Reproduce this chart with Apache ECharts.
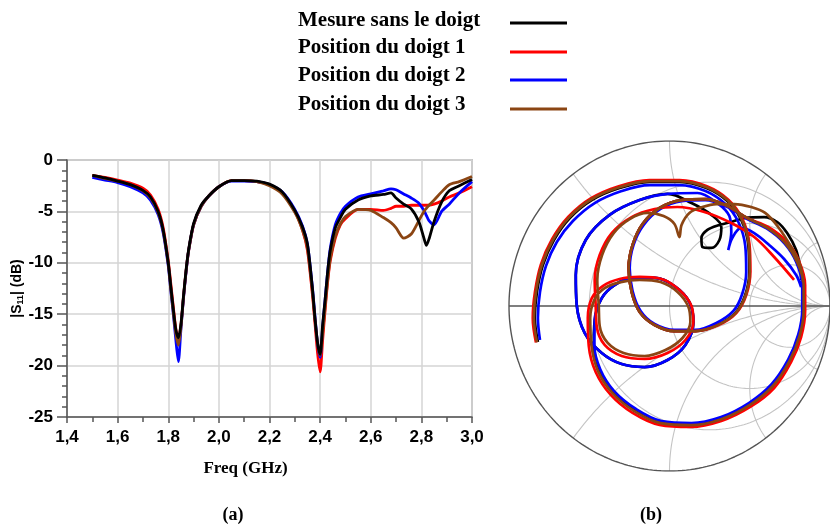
<!DOCTYPE html>
<html><head><meta charset="utf-8">
<script src="https://cdn.jsdelivr.net/npm/echarts@6/dist/echarts.min.js"></script>
<style>html,body{margin:0;padding:0;background:#fff}#c{width:830px;height:526px}</style>
</head><body><div id="c"></div>
<script>
// ---------- |S11| (dB) versus frequency (GHz) ----------
const freq = [1.50,1.55,1.60,1.65,1.70,1.73,1.76,1.78,1.80,1.81,1.82,1.83,1.84,1.85,1.86,1.87,1.88,1.90,1.93,1.96,2.00,2.05,2.10,2.15,2.20,2.25,2.30,2.33,2.35,2.37,2.38,2.39,2.40,2.41,2.42,2.43,2.44,2.46,2.48,2.50,2.55,2.60,2.65,2.68,2.70,2.73,2.76,2.79,2.81,2.82,2.83,2.85,2.88,2.91,2.95,3.00];
const s11Black = [-1.5,-1.75,-2.05,-2.4,-2.95,-3.6,-5.0,-6.8,-10.0,-12.3,-14.5,-16.5,-17.3,-16.0,-13.3,-10.8,-8.8,-6.2,-4.4,-3.5,-2.6,-2.0,-2.0,-2.05,-2.35,-3.1,-4.9,-6.5,-8.2,-12.6,-15.5,-17.8,-18.9,-16.0,-13.5,-10.8,-8.8,-6.6,-5.6,-4.8,-3.9,-3.5,-3.35,-3.2,-3.7,-4.3,-4.75,-6.0,-7.6,-8.3,-7.7,-6.0,-4.1,-3.0,-2.5,-1.9];
const s11Red   = [-1.5,-1.7,-1.95,-2.25,-2.75,-3.4,-4.8,-6.6,-9.8,-12.0,-14.3,-16.4,-17.5,-16.1,-13.4,-10.9,-8.9,-6.3,-4.5,-3.5,-2.6,-2.0,-2.0,-2.1,-2.4,-3.2,-5.0,-6.8,-8.8,-13.2,-16.0,-18.8,-20.6,-17.5,-14.5,-11.8,-9.8,-7.6,-6.3,-5.7,-4.8,-4.8,-4.9,-4.7,-4.5,-4.5,-4.4,-4.4,-4.4,-4.4,-4.4,-4.3,-4.0,-3.6,-3.2,-2.6];
const s11Blue  = [-1.7,-1.95,-2.2,-2.6,-3.2,-3.9,-5.3,-7.1,-10.3,-12.7,-15.0,-17.5,-19.6,-16.5,-13.5,-11.0,-8.9,-6.3,-4.5,-3.5,-2.6,-2.05,-2.05,-2.1,-2.4,-3.1,-4.8,-6.4,-8.2,-12.5,-15.3,-17.9,-19.2,-16.2,-13.5,-10.8,-8.6,-6.3,-5.2,-4.5,-3.6,-3.3,-3.0,-2.8,-2.9,-3.3,-3.7,-4.2,-4.9,-5.4,-5.9,-6.3,-5.0,-4.3,-3.2,-2.1];
const s11Brown = [-1.5,-1.8,-2.05,-2.4,-3.0,-3.7,-5.1,-6.9,-10.1,-12.5,-14.8,-16.9,-18.0,-16.3,-13.4,-10.9,-8.9,-6.3,-4.5,-3.5,-2.6,-2.0,-2.0,-2.1,-2.5,-3.3,-5.1,-6.8,-8.6,-12.9,-15.6,-17.9,-19.0,-16.8,-14.2,-11.6,-9.6,-7.4,-6.2,-5.5,-4.8,-4.9,-5.6,-6.1,-6.6,-7.6,-7.2,-5.9,-5.0,-4.7,-4.4,-3.9,-3.1,-2.4,-2.1,-1.6];

// ---------- Smith chart traces: reflection coefficient [Re, Im] ----------
const smithBlack = [
[-0.820,-0.218],[-0.839,-0.073],[-0.826,0.085],[-0.789,0.248],[-0.720,0.400],[-0.621,0.533],[-0.484,0.642],[-0.311,0.715],[-0.124,0.752],[0.062,0.752],[0.230,0.715],[0.360,0.636],[0.447,0.521],[0.491,0.370],[0.497,0.206],[0.472,0.067],[0.410,-0.042],[0.298,-0.115],
[0.161,-0.152],[0.031,-0.152],[-0.093,-0.115],[-0.186,-0.036],[-0.236,0.085],[-0.255,0.230],[-0.230,0.370],[-0.168,0.497],[-0.062,0.594],[0.075,0.642],[0.224,0.648],[0.360,0.606],[0.484,0.533],
[0.609,0.473],[0.720,0.382],[0.795,0.267],[0.832,0.127],[0.832,-0.024],[0.807,-0.176],[0.745,-0.327],[0.640,-0.479],[0.497,-0.594],[0.323,-0.679],[0.137,-0.715],[-0.050,-0.703],[-0.211,-0.630],[-0.348,-0.521],[-0.435,-0.388],[-0.472,-0.242],
[-0.466,-0.085],[-0.422,0.048],[-0.342,0.127],[-0.230,0.170],[-0.093,0.170],[0.031,0.121],[0.124,0.024],[0.149,-0.097],[0.099,-0.236],[-0.012,-0.327],[-0.155,-0.370],[-0.298,-0.352],[-0.422,-0.285],[-0.528,-0.164],[-0.578,0.006],
[-0.584,0.188],[-0.522,0.400],[-0.373,0.552],[-0.186,0.642],[-0.012,0.679],
[0.137,0.624],[0.261,0.552],[0.323,0.479],[0.311,0.400],[0.261,0.352],[0.205,0.358],[0.199,0.412],[0.236,0.461],[0.311,0.491],[0.385,0.509],[0.466,0.533],[0.590,0.539],[0.671,0.509],[0.733,0.442],[0.789,0.339],[0.814,0.230],[0.820,0.158]
];
const smithBlue = [
[-0.807,-0.206],[-0.820,-0.073],[-0.807,0.085],[-0.770,0.242],[-0.702,0.388],[-0.602,0.515],[-0.466,0.624],[-0.298,0.697],[-0.124,0.733],[0.062,0.733],[0.224,0.697],[0.348,0.618],[0.429,0.509],[0.472,0.364],[0.478,0.206],[0.453,0.073],[0.398,-0.030],[0.292,-0.103],
[0.161,-0.145],[0.031,-0.145],[-0.093,-0.109],[-0.180,-0.030],[-0.230,0.091],[-0.248,0.230],[-0.224,0.370],[-0.161,0.491],[-0.056,0.588],[0.075,0.636],[0.224,0.642],[0.360,0.600],[0.484,0.527],
[0.605,0.470],[0.716,0.380],[0.790,0.266],[0.827,0.127],[0.827,-0.024],[0.802,-0.174],[0.740,-0.324],[0.636,-0.474],[0.494,-0.588],[0.321,-0.673],[0.137,-0.709],[-0.050,-0.697],[-0.209,-0.624],[-0.345,-0.516],[-0.431,-0.385],[-0.468,-0.240],
[-0.466,-0.085],[-0.422,0.048],[-0.342,0.127],[-0.230,0.170],[-0.093,0.170],[0.031,0.121],[0.124,0.024],[0.149,-0.097],[0.099,-0.236],[-0.012,-0.327],[-0.155,-0.370],[-0.298,-0.352],[-0.422,-0.285],[-0.528,-0.164],[-0.578,0.006],
[-0.584,0.188],[-0.522,0.400],[-0.373,0.552],[-0.186,0.642],[-0.012,0.679],
[0.174,0.685],[0.298,0.624],[0.373,0.545],[0.385,0.448],[0.366,0.339],[0.391,0.412],[0.447,0.473],[0.528,0.442],[0.621,0.370],[0.714,0.285],[0.789,0.188],[0.820,0.115]
];
const smithRed = [
[-0.832,-0.221],[-0.852,-0.074],[-0.838,0.086],[-0.801,0.252],[-0.731,0.406],[-0.630,0.541],[-0.491,0.652],[-0.316,0.726],[-0.126,0.763],[0.063,0.763],[0.233,0.726],[0.365,0.646],[0.454,0.529],[0.498,0.376],[0.504,0.209],[0.479,0.068],[0.416,-0.043],[0.302,-0.117],
[0.161,-0.152],[0.031,-0.152],[-0.093,-0.115],[-0.186,-0.036],[-0.236,0.085],[-0.255,0.230],[-0.230,0.370],[-0.168,0.497],[-0.062,0.594],[0.075,0.642],[0.224,0.648],[0.360,0.606],[0.484,0.533],
[0.615,0.479],[0.733,0.388],[0.807,0.273],[0.845,0.127],[0.845,-0.030],[0.820,-0.188],[0.758,-0.339],[0.652,-0.497],[0.503,-0.612],[0.323,-0.697],[0.130,-0.733],[-0.062,-0.721],[-0.230,-0.648],[-0.366,-0.539],[-0.460,-0.400],[-0.503,-0.242],[-0.509,-0.073],
[-0.484,0.048],[-0.416,0.121],[-0.311,0.164],[-0.186,0.176],[-0.050,0.164],[0.062,0.097],[0.137,0.000],[0.149,-0.097],[0.099,-0.206],[-0.012,-0.285],[-0.155,-0.321],[-0.298,-0.303],[-0.404,-0.236],[-0.453,-0.127],[-0.460,0.006],
[-0.466,0.158],[-0.435,0.309],[-0.360,0.442],[-0.236,0.539],[-0.093,0.588],[0.050,0.600],
[0.217,0.570],[0.385,0.503],[0.528,0.418],[0.652,0.297],[0.776,0.158]
];
const smithBrown = [
[-0.826,-0.219],[-0.845,-0.073],[-0.832,0.085],[-0.795,0.250],[-0.725,0.403],[-0.625,0.537],[-0.487,0.647],[-0.313,0.720],[-0.125,0.757],[0.062,0.757],[0.231,0.720],[0.362,0.641],[0.450,0.525],[0.494,0.373],[0.500,0.207],[0.475,0.067],[0.413,-0.042],[0.300,-0.116],
[0.161,-0.152],[0.031,-0.152],[-0.093,-0.115],[-0.186,-0.036],[-0.236,0.085],[-0.255,0.230],[-0.230,0.370],[-0.168,0.497],[-0.062,0.594],[0.075,0.642],[0.224,0.648],[0.360,0.606],[0.484,0.533],
[0.609,0.473],[0.720,0.382],[0.795,0.267],[0.836,0.127],[0.836,-0.026],[0.811,-0.180],[0.749,-0.331],[0.644,-0.485],[0.499,-0.601],[0.323,-0.686],[0.134,-0.722],[-0.055,-0.710],[-0.219,-0.637],[-0.355,-0.528],[-0.446,-0.393],[-0.486,-0.242],[-0.494,-0.073],
[-0.466,0.042],[-0.404,0.109],[-0.304,0.145],[-0.186,0.158],[-0.056,0.145],[0.050,0.085],[0.118,-0.006],[0.130,-0.097],[0.081,-0.194],[-0.025,-0.267],[-0.155,-0.303],[-0.286,-0.285],[-0.385,-0.224],[-0.435,-0.121],[-0.441,0.006],
[-0.450,0.158],[-0.420,0.309],[-0.348,0.442],[-0.248,0.527],[-0.137,0.564],
[-0.037,0.545],[0.031,0.497],[0.062,0.418],[0.075,0.491],[0.124,0.564],[0.205,0.600],[0.292,0.618],[0.404,0.618],[0.509,0.600],[0.596,0.564],[0.677,0.479],[0.758,0.358],[0.814,0.248],[0.832,0.145]
];

// Smith chart grid values (normalized resistance / reactance)
const smithR = [1/3, 1, 3];
const smithX = [0.5, 1, 2, 5];

const names  = ['Mesure sans le doigt','Position du doigt 1','Position du doigt 2','Position du doigt 3'];
const colors = ['#000000','#ff0000','#0000ff','#8b4513'];
const s11All = [s11Black, s11Red, s11Blue, s11Brown];
const smithAll = [smithBlack, smithRed, smithBlue, smithBrown];

function rCircle(r){
  const c = r/(1+r), R = 1/(1+r), p = [];
  for (let i=0;i<=240;i++){ const t=i/240*2*Math.PI; p.push([c+R*Math.cos(t), R*Math.sin(t)]); }
  return p;
}
function xArc(x){
  const p = [];
  for (let i=0;i<=300;i++){
    const r = Math.tan(i/300*Math.PI/2*0.9995);
    const d = (r+1)*(r+1)+x*x;
    p.push([(r*r-1+x*x)/d, 2*x/d]);
  }
  return p;
}

const series = [];
const gridStyle = {color:'#c4c4c4', width:1.1};
const gridLine = (data, style) => ({type:'line', xAxisIndex:1, yAxisIndex:1, data, showSymbol:false, symbol:'none', silent:true, lineStyle:style, z:1, animation:false});
smithR.forEach(r => series.push(gridLine(rCircle(r), gridStyle)));
smithX.forEach(x => { series.push(gridLine(xArc(x), gridStyle)); series.push(gridLine(xArc(-x), gridStyle)); });
series.push(gridLine(rCircle(0), {color:'#555', width:1.4}));
series.push(gridLine([[-1,0],[1,0]], {color:'#555', width:1.4}));

// S11 (dB) lines: draw order red, blue, brown, black (black on top)
[1,2,3,0].forEach((k,i) => series.push({
  type:'line', name:names[k], xAxisIndex:0, yAxisIndex:0,
  data: freq.map((f,j)=>[f, s11All[k][j]]),
  symbol:'none', smooth:0.25, lineStyle:{color:colors[k], width:2.8}, z:5+i, animation:false
}));
// Smith traces: black, blue, red, brown (brown on top)
[0,2,1,3].forEach((k,i) => series.push({
  type:'line', name:names[k]+' (Smith)', xAxisIndex:1, yAxisIndex:1,
  data: smithAll[k], symbol:'none', smooth:0.35, lineStyle:{color:colors[k], width:2.7}, z:5+i, animation:false
}));

const legendTextY = [21, 48, 76, 105];
const legendLineY = [23, 52, 80, 109];
const graphics = [];
names.forEach((n,i) => {
  graphics.push({type:'text', x:298, y:legendTextY[i], style:{text:n, fontFamily:'Liberation Serif', fontWeight:'bold', fontSize:21, fill:'#000', verticalAlign:'middle'}});
  graphics.push({type:'line', shape:{x1:510, y1:legendLineY[i], x2:567, y2:legendLineY[i]}, style:{stroke:colors[i], lineWidth:3}});
});
graphics.push({type:'text', x:233, y:515, style:{text:'(a)', fontFamily:'Liberation Serif', fontWeight:'bold', fontSize:18, fill:'#000', align:'center', verticalAlign:'middle'}});
graphics.push({type:'text', x:651, y:515, style:{text:'(b)', fontFamily:'Liberation Serif', fontWeight:'bold', fontSize:18, fill:'#000', align:'center', verticalAlign:'middle'}});

const axisTxt = {fontFamily:'Liberation Sans', fontWeight:'bold', fontSize:17, color:'#000'};
const chart = echarts.init(document.getElementById('c'), null, {renderer:'canvas'});
chart.setOption({
  backgroundColor:'#fff',
  animation:false,
  grid:[
    {left:67, top:160, width:405, height:257, show:true, borderColor:'#999', borderWidth:1.5, backgroundColor:'transparent'},
    {left:509, top:141, width:322, height:330}
  ],
  xAxis:[
    {gridIndex:0, type:'value', min:1.4, max:3.0, interval:0.2,
     axisLine:{show:true, onZero:false, lineStyle:{color:'#555', width:1.5}},
     axisTick:{show:true, length:6, lineStyle:{color:'#555', width:1.5}},
     minorTick:{show:true, splitNumber:2, length:5, lineStyle:{color:'#555', width:1.5}},
     splitLine:{show:true, lineStyle:{color:'#d4d4d4', width:1.5}},
     axisLabel:Object.assign({margin:12, formatter:v=>v.toFixed(1).replace('.',',')}, axisTxt),
     name:'Freq (GHz)', nameLocation:'middle', nameGap:43,
     nameTextStyle:{fontFamily:'Liberation Serif', fontWeight:'bold', fontSize:17, color:'#000', padding:[0,48,0,0]}},
    {gridIndex:1, type:'value', min:-1, max:1, show:false}
  ],
  yAxis:[
    {gridIndex:0, type:'value', min:-25, max:0, interval:5,
     axisLine:{show:true, onZero:false, lineStyle:{color:'#555', width:1.5}},
     axisTick:{show:true, length:10, lineStyle:{color:'#555', width:1.5}},
     minorTick:{show:true, splitNumber:5, length:5, lineStyle:{color:'#555', width:1.5}},
     splitLine:{show:true, lineStyle:{color:'#d4d4d4', width:1.5}},
     axisLabel:Object.assign({margin:14}, axisTxt),
     name:'|S{s|11}| (dB)', nameLocation:'middle', nameGap:37, nameRotate:90,
     nameTextStyle:{fontFamily:'Liberation Sans', fontWeight:'bold', fontSize:14, color:'#000',
       rich:{s:{fontFamily:'Liberation Sans', fontWeight:'bold', fontSize:9, color:'#000', verticalAlign:'bottom'}}}},
    {gridIndex:1, type:'value', min:-1, max:1, show:false}
  ],
  graphic: graphics,
  series: series
});
</script>
</body></html>
